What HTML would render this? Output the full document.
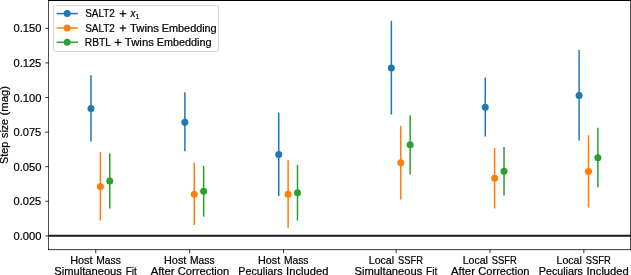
<!DOCTYPE html>
<html><head><meta charset="utf-8"><title>Step size</title>
<style>
html,body{margin:0;padding:0;background:#fff;}
body{width:631px;height:275px;overflow:hidden;}
svg{display:block;will-change:transform;}
text{font-family:"Liberation Sans",sans-serif;fill:#000;stroke:#000;stroke-width:0.2px;}
</style></head><body>
<svg width="631" height="275" viewBox="0 0 631 275">
<rect width="631" height="275" fill="#fff"/>
<line x1="90.99" x2="90.99" y1="75.3" y2="141.5" stroke="#1f77b4" stroke-width="1.5"/>
<circle cx="90.99" cy="108.5" r="3.5" fill="#1f77b4"/>
<line x1="100.38" x2="100.38" y1="152.1" y2="220.4" stroke="#ff7f0e" stroke-width="1.5"/>
<circle cx="100.38" cy="186.4" r="3.5" fill="#ff7f0e"/>
<line x1="109.77" x2="109.77" y1="153.2" y2="208.4" stroke="#2ca02c" stroke-width="1.5"/>
<circle cx="109.77" cy="181.1" r="3.5" fill="#2ca02c"/>
<line x1="184.86" x2="184.86" y1="92.2" y2="151.3" stroke="#1f77b4" stroke-width="1.5"/>
<circle cx="184.86" cy="122.2" r="3.5" fill="#1f77b4"/>
<line x1="194.25" x2="194.25" y1="162.7" y2="224.9" stroke="#ff7f0e" stroke-width="1.5"/>
<circle cx="194.25" cy="194.2" r="3.5" fill="#ff7f0e"/>
<line x1="203.64" x2="203.64" y1="166.0" y2="216.6" stroke="#2ca02c" stroke-width="1.5"/>
<circle cx="203.64" cy="191.2" r="3.5" fill="#2ca02c"/>
<line x1="278.73" x2="278.73" y1="112.6" y2="196.0" stroke="#1f77b4" stroke-width="1.5"/>
<circle cx="278.73" cy="154.5" r="3.5" fill="#1f77b4"/>
<line x1="288.12" x2="288.12" y1="160.2" y2="227.9" stroke="#ff7f0e" stroke-width="1.5"/>
<circle cx="288.12" cy="194.2" r="3.5" fill="#ff7f0e"/>
<line x1="297.51" x2="297.51" y1="164.8" y2="220.5" stroke="#2ca02c" stroke-width="1.5"/>
<circle cx="297.51" cy="192.7" r="3.5" fill="#2ca02c"/>
<line x1="391.38" x2="391.38" y1="20.9" y2="114.5" stroke="#1f77b4" stroke-width="1.5"/>
<circle cx="391.38" cy="67.9" r="3.5" fill="#1f77b4"/>
<line x1="400.77" x2="400.77" y1="125.7" y2="199.5" stroke="#ff7f0e" stroke-width="1.5"/>
<circle cx="400.77" cy="162.8" r="3.5" fill="#ff7f0e"/>
<line x1="410.15" x2="410.15" y1="115.3" y2="174.4" stroke="#2ca02c" stroke-width="1.5"/>
<circle cx="410.15" cy="144.8" r="3.5" fill="#2ca02c"/>
<line x1="485.25" x2="485.25" y1="77.4" y2="136.6" stroke="#1f77b4" stroke-width="1.5"/>
<circle cx="485.25" cy="107.3" r="3.5" fill="#1f77b4"/>
<line x1="494.64" x2="494.64" y1="148.1" y2="208.5" stroke="#ff7f0e" stroke-width="1.5"/>
<circle cx="494.64" cy="178.3" r="3.5" fill="#ff7f0e"/>
<line x1="504.02" x2="504.02" y1="147.0" y2="195.6" stroke="#2ca02c" stroke-width="1.5"/>
<circle cx="504.02" cy="171.2" r="3.5" fill="#2ca02c"/>
<line x1="579.12" x2="579.12" y1="50.1" y2="140.4" stroke="#1f77b4" stroke-width="1.5"/>
<circle cx="579.12" cy="95.6" r="3.5" fill="#1f77b4"/>
<line x1="588.51" x2="588.51" y1="135.3" y2="207.5" stroke="#ff7f0e" stroke-width="1.5"/>
<circle cx="588.51" cy="171.4" r="3.5" fill="#ff7f0e"/>
<line x1="597.9" x2="597.9" y1="127.7" y2="187.2" stroke="#2ca02c" stroke-width="1.5"/>
<circle cx="597.9" cy="157.7" r="3.5" fill="#2ca02c"/>
<line x1="48.8" x2="630.8" y1="235.87" y2="235.87" stroke="#1a1a1a" stroke-width="2"/>
<line x1="48.5" x2="48.5" y1="0" y2="250.05" stroke="#000" stroke-width="0.7"/>
<line x1="630.5" x2="630.5" y1="0" y2="250.05" stroke="#000" stroke-width="0.7"/>
<line x1="48.15" x2="631" y1="0.5" y2="0.5" stroke="#000" stroke-width="1"/>
<line x1="48.15" x2="631" y1="249.65" y2="249.65" stroke="#000" stroke-width="0.8"/>
<line x1="45.3" x2="48.8" y1="235.87" y2="235.87" stroke="#000" stroke-width="0.8"/>
<text transform="translate(13.47,240.10) scale(1.0979,1)" font-size="10.2">0.000</text>
<line x1="45.3" x2="48.8" y1="201.28" y2="201.28" stroke="#000" stroke-width="0.8"/>
<text transform="translate(13.48,205.47) scale(1.0898,1)" font-size="10.2">0.025</text>
<line x1="45.3" x2="48.8" y1="166.7" y2="166.7" stroke="#000" stroke-width="0.8"/>
<text transform="translate(13.47,170.84) scale(1.0979,1)" font-size="10.2">0.050</text>
<line x1="45.3" x2="48.8" y1="132.12" y2="132.12" stroke="#000" stroke-width="0.8"/>
<text transform="translate(13.48,136.21) scale(1.0898,1)" font-size="10.2">0.075</text>
<line x1="45.3" x2="48.8" y1="97.53" y2="97.53" stroke="#000" stroke-width="0.8"/>
<text transform="translate(13.47,101.58) scale(1.0979,1)" font-size="10.2">0.100</text>
<line x1="45.3" x2="48.8" y1="62.95" y2="62.95" stroke="#000" stroke-width="0.8"/>
<text transform="translate(13.48,66.95) scale(1.0898,1)" font-size="10.2">0.125</text>
<line x1="45.3" x2="48.8" y1="28.37" y2="28.37" stroke="#000" stroke-width="0.8"/>
<text transform="translate(13.47,32.32) scale(1.0979,1)" font-size="10.2">0.150</text>
<line x1="95.74" x2="95.74" y1="249.7" y2="253.2" stroke="#000" stroke-width="0.8"/>
<text transform="translate(70.17,264.40) scale(1.0625,1)" font-size="10.2">Host</text>
<text transform="translate(96.16,264.40) scale(1.0106,1)" font-size="10.2">Mass</text>
<text transform="translate(54.24,275.20) scale(1.0960,1)" font-size="10.2">Simultaneous</text>
<text transform="translate(125.65,275.20) scale(0.9852,1)" font-size="10.2">Fit</text>
<line x1="189.61" x2="189.61" y1="249.7" y2="253.2" stroke="#000" stroke-width="0.8"/>
<text transform="translate(164.04,264.40) scale(1.0625,1)" font-size="10.2">Host</text>
<text transform="translate(190.03,264.40) scale(1.0106,1)" font-size="10.2">Mass</text>
<text transform="translate(150.65,275.20) scale(1.1117,1)" font-size="10.2">After</text>
<text transform="translate(177.80,275.20) scale(1.0938,1)" font-size="10.2">Correction</text>
<line x1="283.48" x2="283.48" y1="249.7" y2="253.2" stroke="#000" stroke-width="0.8"/>
<text transform="translate(257.91,264.40) scale(1.0625,1)" font-size="10.2">Host</text>
<text transform="translate(283.90,264.40) scale(1.0106,1)" font-size="10.2">Mass</text>
<text transform="translate(238.37,275.20) scale(1.0527,1)" font-size="10.2">Peculiars</text>
<text transform="translate(286.07,275.20) scale(1.0994,1)" font-size="10.2">Included</text>
<line x1="396.12" x2="396.12" y1="249.7" y2="253.2" stroke="#000" stroke-width="0.8"/>
<text transform="translate(368.77,264.40) scale(1.0393,1)" font-size="10.2">Local</text>
<text transform="translate(397.94,264.40) scale(0.9233,1)" font-size="10.2">SSFR</text>
<text transform="translate(354.62,275.20) scale(1.0960,1)" font-size="10.2">Simultaneous</text>
<text transform="translate(426.03,275.20) scale(0.9852,1)" font-size="10.2">Fit</text>
<line x1="489.99" x2="489.99" y1="249.7" y2="253.2" stroke="#000" stroke-width="0.8"/>
<text transform="translate(462.64,264.40) scale(1.0393,1)" font-size="10.2">Local</text>
<text transform="translate(491.81,264.40) scale(0.9233,1)" font-size="10.2">SSFR</text>
<text transform="translate(451.03,275.20) scale(1.1117,1)" font-size="10.2">After</text>
<text transform="translate(478.18,275.20) scale(1.0938,1)" font-size="10.2">Correction</text>
<line x1="583.86" x2="583.86" y1="249.7" y2="253.2" stroke="#000" stroke-width="0.8"/>
<text transform="translate(556.51,264.40) scale(1.0393,1)" font-size="10.2">Local</text>
<text transform="translate(585.68,264.40) scale(0.9233,1)" font-size="10.2">SSFR</text>
<text transform="translate(538.75,275.20) scale(1.0527,1)" font-size="10.2">Peculiars</text>
<text transform="translate(586.45,275.20) scale(1.0994,1)" font-size="10.2">Included</text>
<text transform="translate(7.9,125) rotate(-90) translate(-38.91,0.00) scale(1.0625,1)" font-size="10.2">Step</text>
<text transform="translate(7.9,125) rotate(-90) translate(-12.90,0.00) scale(1.0438,1)" font-size="10.2">size</text>
<text transform="translate(7.9,125) rotate(-90) translate(9.61,0.00) scale(1.1064,1)" font-size="10.2">(mag)</text>
<rect x="53.5" y="5.5" width="165" height="46" rx="2" ry="2" fill="#fff" fill-opacity="0.8" stroke="#ccc" stroke-opacity="0.8" stroke-width="1"/>
<line x1="56.6" x2="78" y1="13.6" y2="13.6" stroke="#1f77b4" stroke-width="1.5"/>
<circle cx="67.2" cy="13.6" r="3.5" fill="#1f77b4"/>
<text transform="translate(85.15,17.40) scale(0.9787,1)" font-size="10.2">SALT2</text>
<line x1="119.60000000000001" x2="126.3" y1="13.7" y2="13.7" stroke="#000" stroke-width="1.15"/><line x1="122.95" x2="122.95" y1="10.35" y2="17.05" stroke="#000" stroke-width="1.15"/>
<text transform="translate(130.50,17.40) scale(0.9717,1)" font-size="10.2" font-style="italic">x</text>
<text transform="translate(135.59,19.00) scale(0.9367,1)" font-size="7.2">1</text>
<line x1="56.6" x2="78" y1="27.95" y2="27.95" stroke="#ff7f0e" stroke-width="1.5"/>
<circle cx="67.2" cy="27.95" r="3.5" fill="#ff7f0e"/>
<text transform="translate(85.15,31.75) scale(0.9787,1)" font-size="10.2">SALT2</text>
<line x1="119.60000000000001" x2="126.3" y1="28.05" y2="28.05" stroke="#000" stroke-width="1.15"/><line x1="122.95" x2="122.95" y1="24.7" y2="31.400000000000002" stroke="#000" stroke-width="1.15"/>
<text transform="translate(129.97,31.75) scale(1.1137,1)" font-size="10.2">Twins</text>
<text transform="translate(161.83,31.75) scale(1.0632,1)" font-size="10.2">Embedding</text>
<line x1="56.6" x2="78" y1="42.3" y2="42.3" stroke="#2ca02c" stroke-width="1.5"/>
<circle cx="67.2" cy="42.3" r="3.5" fill="#2ca02c"/>
<text transform="translate(84.78,46.10) scale(1.0065,1)" font-size="10.2">RBTL</text>
<line x1="114.60000000000001" x2="121.3" y1="42.4" y2="42.4" stroke="#000" stroke-width="1.15"/><line x1="117.95" x2="117.95" y1="39.05" y2="45.75" stroke="#000" stroke-width="1.15"/>
<text transform="translate(124.87,46.10) scale(1.1137,1)" font-size="10.2">Twins</text>
<text transform="translate(156.73,46.10) scale(1.0632,1)" font-size="10.2">Embedding</text>
</svg>
</body></html>
